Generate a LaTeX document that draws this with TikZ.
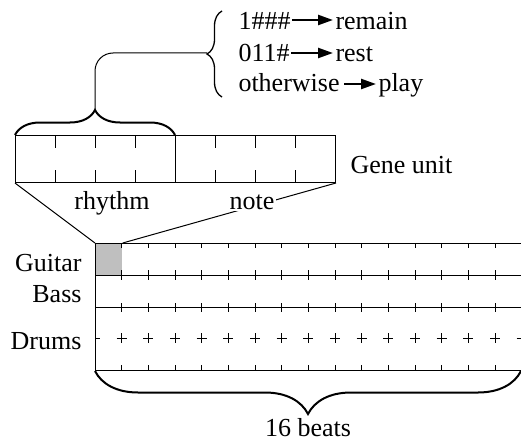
\documentclass[tikz,border=0pt]{standalone}
\usepackage{fontspec}
\setmainfont{Liberation Serif}
\usetikzlibrary{decorations.pathreplacing,arrows.meta}
\begin{document}
\begin{tikzpicture}[x=1pt,y=-1pt,
  font=\fontsize{26}{30}\selectfont,
  line width=1pt,
  lbl/.style={inner sep=0pt},
  arr/.style={-{Triangle[length=15pt,width=10pt]}, line width=2.4pt},
  bigbrace/.style={decorate, line width=2pt},
  thin/.style={line width=1pt}]
\useasboundingbox (0,0) rectangle (521,441);

% gene unit
\node[draw, thin, minimum width=320pt, minimum height=47pt, inner sep=0pt, anchor=north west] (gene) at (15,135) {};
\draw (175,135) -- (175,182);
\foreach \x in {55,95,135,215,255,295}{
  \draw (\x,135) -- (\x,148);
  \draw (\x,170) -- (\x,182);
}
\node[lbl, anchor=base west] (gl) at (350,173) {Gene unit};
\node[lbl, anchor=base] (rh) at (112,209) {rhythm};

% grid
\node[fill=gray!50, minimum width=26.67pt, minimum height=32pt, inner sep=0pt, anchor=north west] (cell) at (95,243) {};
\draw (gene.south west) -- (cell.north west);
\draw (gene.south east) -- (cell.north east);
\node[fill=white, inner sep=1.5pt, anchor=base] (note) at (252,209) {note};

\draw (95,243) -- (522,243);
\draw (95,275) -- (522,275);
\draw (95,307) -- (522,307);
\draw (95,370) -- (522,370);
\draw (95,243) -- (95,370);
\draw (95,338) -- (100,338);
\foreach \k in {1,...,16}{
  \pgfmathsetmacro{\x}{95+\k*26.6667}
  \draw (\x,243) -- (\x,248);
  \draw (\x,270) -- (\x,280);
  \draw (\x,303) -- (\x,312);
  \draw (\x,365) -- (\x,370);
  \draw (\x-5,338) -- (\x+5,338);
  \draw (\x,333) -- (\x,343);
}
\node[lbl, anchor=base east] (gt) at (82,271) {Guitar};
\node[lbl, anchor=base east] (bs) at (82,302) {Bass};
\node[lbl, anchor=base east] (dr) at (82,349) {Drums};

% bottom brace
\draw[bigbrace, decoration={brace, amplitude=43pt}] (521,371) -- (95,371);
\node[lbl, anchor=base] (beats) at (308,436) {16 beats};

% top brace and connector
\coordinate (tb) at (95,110);
\coordinate (lb) at (207,53);
\draw[bigbrace, decoration={brace, amplitude=25pt}] (gene.north west) -- (175,135);
\draw[thin, rounded corners=18pt] (tb) |- (lb);
\draw[decorate, line width=1.3pt, decoration={brace, amplitude=15pt}] (222,97) -- (222,11);

% rules
\node[lbl, anchor=base west] (c1) at (238,30) {1\#\#\#};
\node[lbl, anchor=base west] (r1) at (335,30) {remain};
\node[lbl, anchor=base west] (c2) at (238,62) {011\#};
\node[lbl, anchor=base west] (r2) at (335,62) {rest};
\node[lbl, anchor=base west] (c3) at (238,92) {otherwise};
\node[lbl, anchor=base west] (r3) at (378,92) {play};
\draw[arr] ([xshift=1pt,yshift=10pt]c1.base east) -- ([xshift=-2pt,yshift=10pt]r1.base west);
\draw[arr] ([xshift=1pt,yshift=9pt]c2.base east) -- ([xshift=-2pt,yshift=9pt]r2.base west);
\draw[arr] ([xshift=4pt,yshift=8pt]c3.base east) -- ([xshift=-2pt,yshift=8pt]r3.base west);
\end{tikzpicture}
\end{document}
